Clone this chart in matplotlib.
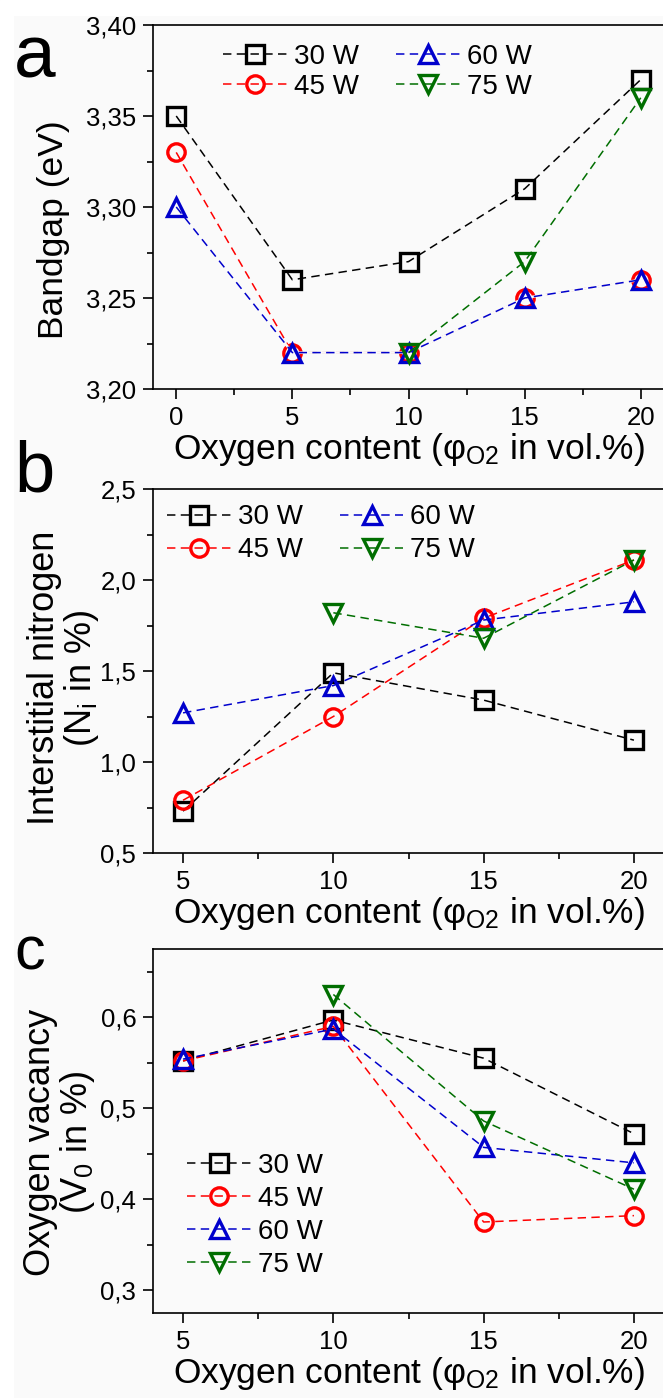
import matplotlib
matplotlib.use('Agg')
from matplotlib import pyplot as plt
from matplotlib.patches import Rectangle
from matplotlib.ticker import FuncFormatter, MultipleLocator

plt.rcParams['font.family'] = ['Liberation Sans', 'DejaVu Sans']
plt.rcParams['mathtext.fontset'] = 'custom'
plt.rcParams['mathtext.rm'] = 'Liberation Sans'
plt.rcParams['mathtext.it'] = 'Liberation Sans:italic'
plt.rcParams['mathtext.default'] = 'regular'

# 功率系列
powers = ['30 W', '45 W', '60 W', '75 W']
colors = ['black', '#ff0000', '#0000cc', '#006e00']
markers = ['s', 'o', '^', 'v']

# a: 带隙
x_a = [0, 5, 10, 15, 20]
x_a75 = [10, 15, 20]
bg_30 = [3.35, 3.26, 3.27, 3.31, 3.37]
bg_45 = [3.33, 3.22, 3.22, 3.25, 3.26]
bg_60 = [3.30, 3.22, 3.22, 3.25, 3.26]
bg_75 = [3.22, 3.27, 3.36]

# b: 间隙氮
x_b = [5, 10, 15, 20]
x_b75 = [10, 15, 20]
ni_30 = [0.73, 1.49, 1.34, 1.12]
ni_45 = [0.79, 1.25, 1.79, 2.11]
ni_60 = [1.27, 1.42, 1.78, 1.88]
ni_75 = [1.82, 1.68, 2.11]

# c: 氧空位
x_c = [5, 10, 15, 20]
x_c75 = [10, 15, 20]
vo_30 = [0.552, 0.597, 0.555, 0.472]
vo_45 = [0.552, 0.590, 0.375, 0.382]
vo_60 = [0.554, 0.587, 0.457, 0.440]
vo_75 = [0.625, 0.486, 0.411]

bg = '#fafafa'
fig = plt.figure(figsize=(6.63, 13.98), dpi=100, facecolor=bg)
fig.add_artist(Rectangle((0, 0), 13 / 663, 1, transform=fig.transFigure,
                         color='white', zorder=-1))
fig.add_artist(Rectangle((0, 1 - 15 / 1398), 1, 15 / 1398,
                         transform=fig.transFigure, color='white', zorder=-1))

W, H = 663.0, 1398.0


def make_ax(top):
    return fig.add_axes([153 / W, 1 - (top + 364) / H, 511 / W, 364 / H])


def draw(ax, xs, ys, mask60=False):
    for i, (x, y, c, m, lab) in enumerate(zip(xs, ys, colors, markers, powers)):
        z = 2.1 + i * 0.1
        if mask60 and i == 2:
            # 盖住与60 W重合的45 W虚线
            ax.plot(x, y, color=bg, lw=1.8, zorder=z - 0.05)
        ax.plot(x, y, color=c, linestyle='--', dashes=(5.5, 3.5), lw=1.1,
                marker=m, markersize=12.5, markeredgewidth=2.4,
                markerfacecolor='none', markeredgecolor=c, label=lab,
                zorder=z)


def style(ax, ylim, ymaj, decimals, xlim, xticks):
    ax.set_facecolor(bg)
    ax.set_xlim(*xlim)
    ax.set_ylim(*ylim)
    ax.set_xticks(xticks)
    ax.xaxis.set_minor_locator(MultipleLocator(2.5))
    ax.yaxis.set_major_locator(MultipleLocator(ymaj))
    ax.yaxis.set_minor_locator(MultipleLocator(ymaj / 2))
    ax.yaxis.set_major_formatter(
        FuncFormatter(lambda v, p: ('{:.%df}' % decimals).format(v).replace('.', ',')))
    ax.tick_params(which='major', direction='out', length=7, width=1.2,
                   labelsize=18.5, pad=5)
    ax.tick_params(which='minor', direction='out', length=4, width=1.2)
    for s in ax.spines.values():
        s.set_linewidth(1.2)
    ax.set_xlabel('Oxygen content (φ$_{O2}$ in vol.%)', fontsize=25.5, labelpad=1)


leg_kw = dict(frameon=False, fontsize=20, handlelength=2.3, handletextpad=0.25,
              columnspacing=1.33, borderpad=0, borderaxespad=0)

# a
ax1 = make_ax(25)
draw(ax1, [x_a, x_a, x_a, x_a75], [bg_30, bg_45, bg_60, bg_75], mask60=True)
style(ax1, (3.20, 3.40), 0.05, 2, (-1, 21), [0, 5, 10, 15, 20])
ax1.set_ylabel('Bandgap (eV)', fontsize=25.5)
ax1.yaxis.set_label_coords(-0.162, 0.437)
ax1.legend(ncol=2, loc='upper left', bbox_to_anchor=(0.137, 0.948),
           labelspacing=0.15, **leg_kw)

# b
ax2 = make_ax(489)
draw(ax2, [x_b, x_b, x_b, x_b75], [ni_30, ni_45, ni_60, ni_75])
style(ax2, (0.5, 2.5), 0.5, 1, (4, 21), [5, 10, 15, 20])
ax2.set_ylabel('Interstitial nitrogen\n(N$_i$ in %)', fontsize=26,
               multialignment='center', linespacing=1.0)
ax2.yaxis.set_label_coords(-0.102, 0.48)
ax2.legend(ncol=2, loc='upper left', bbox_to_anchor=(0.027, 0.958),
           labelspacing=0.25, **leg_kw)

# c
ax3 = make_ax(949)
draw(ax3, [x_c, x_c, x_c, x_c75], [vo_30, vo_45, vo_60, vo_75])
style(ax3, (0.275, 0.675), 0.1, 1, (4, 21), [5, 10, 15, 20])
ax3.set_ylabel('Oxygen vacancy\n(V$_0$ in %)', fontsize=26,
               multialignment='center', linespacing=1.0)
ax3.yaxis.set_label_coords(-0.11, 0.47)
ax3.legend(loc='upper left', bbox_to_anchor=(0.0665, 0.44),
           labelspacing=0.25, **leg_kw)

# 子图编号
fig.text(14 / W, 1 - 77 / H, 'a', fontsize=54, ha='left', va='baseline')
fig.text(14 / W, 1 - 492 / H, 'b', fontsize=52, ha='left', va='baseline')
fig.text(14 / W, 1 - 970 / H, 'c', fontsize=44, ha='left', va='baseline')

fig.savefig('out.png', dpi=100, facecolor=bg)
